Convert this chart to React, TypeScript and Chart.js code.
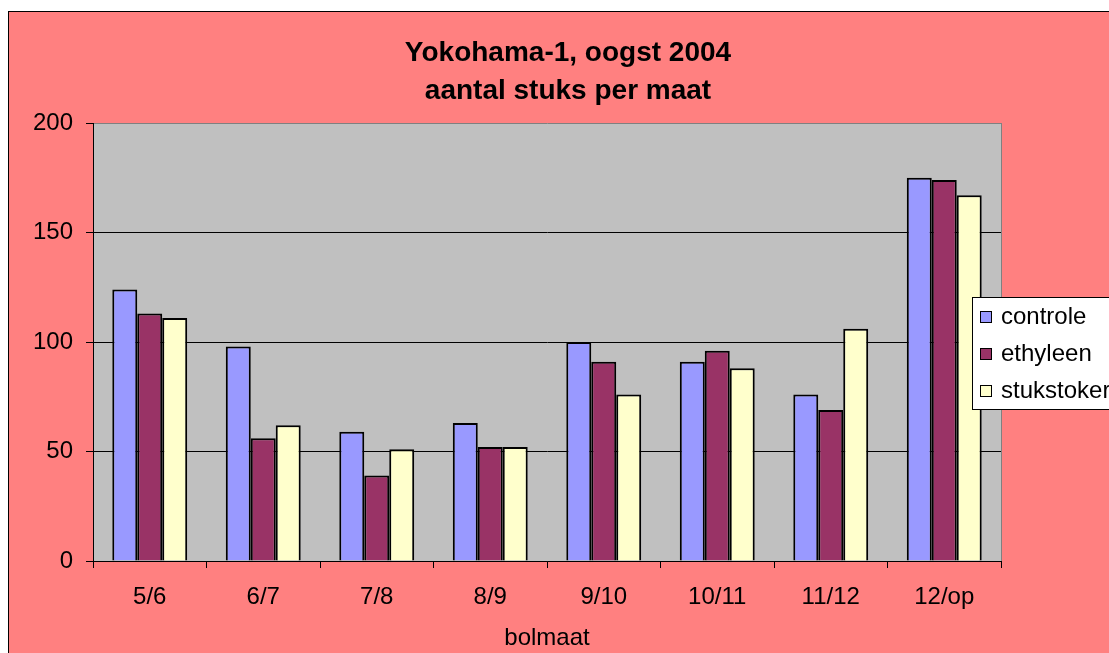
import React, { useEffect, useRef } from 'react';
import { Chart, registerables } from 'chart.js';

Chart.register(...registerables);

const categories = ['5/6', '6/7', '7/8', '8/9', '9/10', '10/11', '11/12', '12/op'];
const controle = [124, 98, 59, 63, 100, 91, 76, 175];
const ethyleen = [113, 56, 39, 52, 91, 96, 69, 174];
const stukstoker = [111, 62, 51, 52, 76, 88, 106, 167];
const seriesNames = ['controle', 'ethyleen', 'stukstoker'];
const seriesColors = ['#9999FF', '#993366', '#FFFFCC'];
const titleLines = ['Yokohama-1, oogst 2004', 'aantal stuks per maat'];
const xAxisTitle = 'bolmaat';
const yMin = 0;
const yMax = 200;
const yStep = 50;

const FONT = "'Liberation Sans', Arial, Helvetica, sans-serif";

const decorPlugin = {
  id: 'decor',
  beforeDraw(chart: any) {
    const { ctx, chartArea } = chart;
    ctx.save();
    ctx.fillStyle = '#C0C0C0';
    ctx.fillRect(chartArea.left, chartArea.top, chartArea.right - chartArea.left, chartArea.bottom - chartArea.top);
    ctx.restore();
  },
  afterDatasetsDraw(chart: any) {
    const { ctx, chartArea } = chart;
    ctx.save();
    ctx.strokeStyle = '#808080';
    ctx.lineWidth = 1;
    ctx.beginPath();
    ctx.moveTo(chartArea.right + 0.5, chartArea.top);
    ctx.lineTo(chartArea.right + 0.5, chartArea.bottom);
    ctx.stroke();
    ctx.restore();
  },
  afterDraw(chart: any) {
    const { ctx, chartArea } = chart;
    // Title
    ctx.save();
    ctx.fillStyle = '#000';
    ctx.font = `bold 28px ${FONT}`;
    ctx.textAlign = 'center';
    ctx.textBaseline = 'middle';
    const cx = chartArea.left + (chartArea.right - chartArea.left) / 2 + 21;
    ctx.fillText(titleLines[0], cx, 41);
    ctx.fillText(titleLines[1], cx, 79);
    ctx.restore();

    // Legend
    const lx = chartArea.right - 29;
    const ly = 285;
    const lw = 200;
    const lh = 112;
    ctx.save();
    ctx.fillStyle = '#FFFFFF';
    ctx.fillRect(lx, ly, lw, lh);
    ctx.strokeStyle = '#000';
    ctx.lineWidth = 1;
    ctx.strokeRect(lx + 0.5, ly + 0.5, lw, lh);
    ctx.font = `24px ${FONT}`;
    ctx.textBaseline = 'middle';
    ctx.textAlign = 'left';
    chart.data.datasets.forEach((ds: any, i: number) => {
      const y = ly + 20 + i * 37;
      ctx.fillStyle = ds.backgroundColor;
      ctx.fillRect(lx + 8, y - 6, 12, 12);
      ctx.strokeStyle = '#000';
      ctx.strokeRect(lx + 8.5, y - 5.5, 11, 11);
      ctx.fillStyle = '#000';
      ctx.fillText(ds.label, lx + 29, y);
    });
    ctx.restore();
  },
};

export default function App() {
  const ref = useRef<HTMLCanvasElement | null>(null);

  useEffect(() => {
    document.body.style.overflow = 'hidden';
    const canvas = ref.current;
    if (!canvas) return;
    const values = [controle, ethyleen, stukstoker];
    const chart = new Chart(canvas, {
      type: 'bar',
      data: {
        labels: categories,
        datasets: seriesNames.map((name, i) => ({
          label: name,
          data: values[i],
          backgroundColor: seriesColors[i],
          borderColor: '#000000',
          borderWidth: 2,
          categoryPercentage: 0.66,
          barPercentage: 1,
        })),
      },
      options: {
        responsive: false,
        animation: false,
        devicePixelRatio: 1,
        layout: { padding: { top: 111, right: 108, left: 0, bottom: 0 } },
        plugins: {
          legend: { display: false },
          title: { display: false },
          tooltip: { enabled: false },
        },
        scales: {
          x: {
            grid: {
              display: true,
              drawOnChartArea: false,
              drawTicks: true,
              tickLength: 7,
              color: '#000',
              offset: true,
            },
            border: { color: '#000', width: 1 },
            ticks: {
              color: '#000',
              font: { family: FONT, size: 24 },
              padding: 15,
              maxRotation: 0,
              autoSkip: false,
            },
            title: {
              display: true,
              text: xAxisTitle,
              color: '#000',
              font: { family: FONT, size: 24, lineHeight: 1 },
              padding: { top: 0, bottom: 3 },
            },
            afterFit(scale: any) {
              scale.height = 92;
            },
          },
          y: {
            min: yMin,
            max: yMax,
            grid: {
              color: (c: any) => (c.tick && c.tick.value === yMax ? '#808080' : '#000'),
              tickColor: '#000',
              tickLength: 7,
              lineWidth: 1,
            },
            border: { color: '#000', width: 1 },
            ticks: {
              stepSize: yStep,
              color: '#000',
              font: { family: FONT, size: 24 },
              padding: 13,
            },
            afterFit(scale: any) {
              scale.width = 84;
            },
          },
        },
      },
      plugins: [decorPlugin],
    } as any);
    return () => chart.destroy();
  }, []);

  return (
    <div
      style={{
        position: 'absolute',
        left: 8,
        top: 11,
        width: 1100,
        height: 641,
        borderLeft: '1px solid #000',
        borderTop: '1px solid #000',
        background: '#FF8080',
        overflow: 'hidden',
      }}
    >
      <canvas ref={ref} width={1100} height={641} style={{ display: 'block', width: 1100, height: 641 }} />
    </div>
  );
}
